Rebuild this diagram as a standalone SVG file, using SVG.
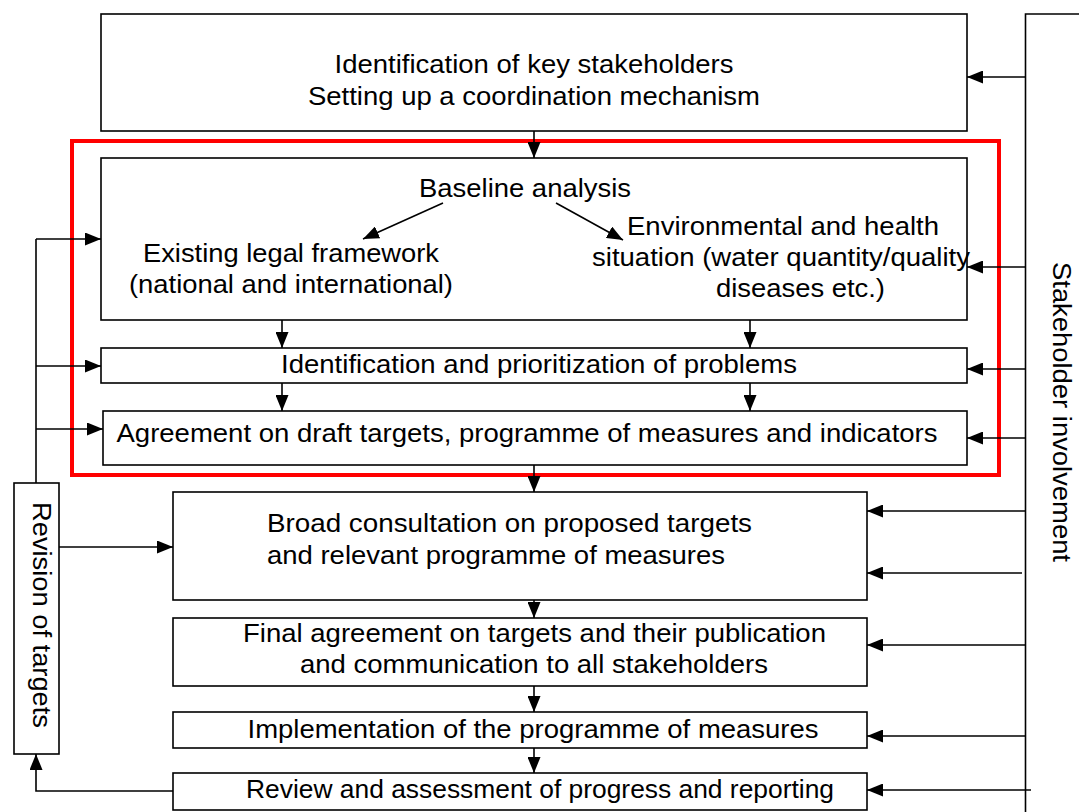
<svg xmlns="http://www.w3.org/2000/svg" width="1079" height="812" viewBox="0 0 1079 812">
<defs>
<marker id="ah" markerUnits="userSpaceOnUse" markerWidth="16" markerHeight="13" refX="16" refY="6.5" orient="auto">
<path d="M0,0 L16,6.5 L0,13 Z" fill="#000"/>
</marker>
<style>
.box{fill:#fff;stroke:#000;stroke-width:1.6}
.ln{fill:none;stroke:#000;stroke-width:1.6}
.ar{fill:none;stroke:#000;stroke-width:1.6;marker-end:url(#ah)}
text{font-family:"Liberation Sans",Arial,sans-serif;font-size:25px;fill:#000}
.m{text-anchor:middle}
</style>
</defs>
<rect width="1079" height="812" fill="#fff"/>

<g id="frame">
<rect x="72" y="141" width="927" height="334" fill="none" stroke="#ff0000" stroke-width="4"/>
</g>

<g id="n-stakeholders">
<rect class="box" x="101" y="14" width="866" height="117"/>
<text class="m" x="534" y="73" textLength="399" lengthAdjust="spacingAndGlyphs">Identification of key stakeholders</text>
<text class="m" x="534" y="105" textLength="452" lengthAdjust="spacingAndGlyphs">Setting up a coordination mechanism</text>
</g>

<g id="n-baseline">
<rect class="box" x="101" y="158" width="866" height="162"/>
<text class="m" x="525" y="197" textLength="212" lengthAdjust="spacingAndGlyphs">Baseline analysis</text>
<text x="143" y="262" textLength="296" lengthAdjust="spacingAndGlyphs">Existing legal framework</text>
<text x="129" y="293" textLength="324" lengthAdjust="spacingAndGlyphs">(national and international)</text>
<text x="627" y="235" textLength="312" lengthAdjust="spacingAndGlyphs">Environmental and health</text>
<text x="592" y="266" textLength="378" lengthAdjust="spacingAndGlyphs">situation (water quantity/quality</text>
<text x="716" y="297" textLength="169" lengthAdjust="spacingAndGlyphs">diseases etc.)</text>
</g>

<g id="n-identification">
<rect class="box" x="101" y="348" width="866" height="35"/>
<text class="m" x="539" y="373" textLength="516" lengthAdjust="spacingAndGlyphs">Identification and prioritization of problems</text>
</g>

<g id="n-agreement">
<rect class="box" x="103" y="411" width="864" height="54"/>
<text class="m" x="527" y="442" textLength="821" lengthAdjust="spacingAndGlyphs">Agreement on draft targets, programme of measures and indicators</text>
</g>

<g id="n-consultation">
<rect class="box" x="173" y="492" width="694" height="108"/>
<text x="267" y="532" textLength="485" lengthAdjust="spacingAndGlyphs">Broad consultation on proposed targets</text>
<text x="267" y="564" textLength="458" lengthAdjust="spacingAndGlyphs">and relevant programme of measures</text>
</g>

<g id="n-final">
<rect class="box" x="173" y="618" width="694" height="68"/>
<text x="243" y="642" textLength="583" lengthAdjust="spacingAndGlyphs">Final agreement on targets and their publication</text>
<text x="300" y="673" textLength="468" lengthAdjust="spacingAndGlyphs">and communication to all stakeholders</text>
</g>

<g id="n-implementation">
<rect class="box" x="173" y="712" width="694" height="36"/>
<text class="m" x="533" y="738" textLength="571" lengthAdjust="spacingAndGlyphs">Implementation of the programme of measures</text>
</g>

<g id="n-review">
<rect class="box" x="173" y="773" width="694" height="37"/>
<text class="m" x="540" y="798" textLength="588" lengthAdjust="spacingAndGlyphs">Review and assessment of progress and reporting</text>
</g>

<g id="n-revision">
<rect class="box" x="14" y="483" width="45" height="271"/>
<text class="m" transform="translate(33,615) rotate(90)" textLength="226" lengthAdjust="spacingAndGlyphs">Revision of targets</text>
</g>

<g id="n-involvement">
<text class="m" transform="translate(1053,412) rotate(90)" textLength="300" lengthAdjust="spacingAndGlyphs">Stakeholder involvement</text>
</g>

<g id="connectors">
<line class="ar" x1="534" y1="131" x2="534" y2="158"/>
<line class="ar" x1="443" y1="203" x2="363" y2="239"/>
<line class="ar" x1="556" y1="203" x2="623" y2="240"/>
<line class="ar" x1="282" y1="320" x2="282" y2="348"/>
<line class="ar" x1="750" y1="320" x2="750" y2="348"/>
<line class="ar" x1="282" y1="383" x2="282" y2="411"/>
<line class="ar" x1="750" y1="383" x2="750" y2="411"/>
<line class="ar" x1="534" y1="465" x2="534" y2="492"/>
<line class="ar" x1="534" y1="600" x2="534" y2="618"/>
<line class="ar" x1="534" y1="686" x2="534" y2="712"/>
<line class="ar" x1="534" y1="748" x2="534" y2="773"/>
<polyline class="ar" points="173,791 36,791 36,754"/>
<line class="ln" x1="36" y1="483" x2="36" y2="239"/>
<line class="ar" x1="36" y1="239" x2="101" y2="239"/>
<line class="ar" x1="36" y1="366" x2="101" y2="366"/>
<line class="ar" x1="36" y1="429" x2="103" y2="429"/>
<line class="ar" x1="59" y1="547" x2="173" y2="547"/>
<polyline class="ln" points="1079,14 1025.5,14 1025.5,812"/>
<line class="ar" x1="1025.5" y1="77" x2="967" y2="77"/>
<line class="ar" x1="1025.5" y1="267" x2="967" y2="267"/>
<line class="ar" x1="1025.5" y1="369" x2="967" y2="369"/>
<line class="ar" x1="1025.5" y1="438" x2="967" y2="438"/>
<line class="ar" x1="1025.5" y1="511" x2="867" y2="511"/>
<line class="ar" x1="1022" y1="573" x2="867" y2="573"/>
<line class="ar" x1="1025.5" y1="645" x2="867" y2="645"/>
<line class="ar" x1="1025.5" y1="736" x2="867" y2="736"/>
<line class="ar" x1="1031" y1="790" x2="867" y2="790"/>
</g>
</svg>
